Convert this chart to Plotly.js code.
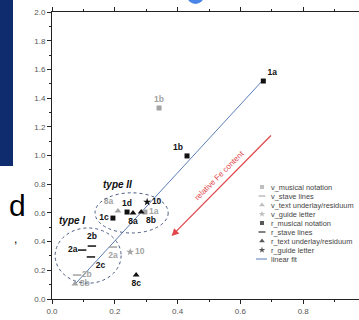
<!DOCTYPE html>
<html><head><meta charset="utf-8">
<script src="https://cdn.plot.ly/plotly-3.0.1.min.js"></script>
<style>
html,body{margin:0;padding:0;background:#fff;overflow:hidden;}
#wrap{position:relative;width:359px;height:320px;overflow:hidden;}
#chart{position:absolute;left:0;top:0;}
.deco{position:absolute;z-index:5;}
</style></head><body>
<div id="wrap">
<div id="chart"></div>
<div class="deco" style="left:0;top:0;width:13px;height:166px;background:#0f2d6e;"></div>
<div class="deco" style="left:187px;top:-6px;width:17px;height:10px;background:#4a86e8;border-radius:0 0 9px 9px;"></div>
<div class="deco" style="left:9px;top:191px;font-family:'Liberation Sans',Arial,sans-serif;font-size:30px;line-height:30px;color:#000;">d</div>
<div class="deco" style="left:14px;top:233px;font-family:'Liberation Sans',Arial,sans-serif;font-size:12px;line-height:12px;color:#000;">,</div>
</div>
<script>
// ---- data ----
const vMusX = [0.296, 0.341], vMusY = [0.606, 1.331], vMusL = ['1a', '1b'];
const vStaveX = [0.194, 0.080], vStaveY = [0.362, 0.167], vStaveL = ['2a', '2b'];
const vTextX = [0.210, 0.073], vTextY = [0.613, 0.105], vTextL = ['8a', '8b'];
const vGuideX = [0.249], vGuideY = [0.328], vGuideL = ['10'];
const rMusX = [0.673, 0.430, 0.194, 0.239], rMusY = [1.519, 0.997, 0.564, 0.606], rMusL = ['1a', '1b', '1c', '1d'];
const rStaveX = [0.096, 0.127, 0.124], rStaveY = [0.341, 0.369, 0.293], rStaveL = ['2a', '2b', '2c'];
const rTextX = [0.258, 0.284, 0.268], rTextY = [0.599, 0.606, 0.167], rTextL = ['8a', '8b', '8c'];
const rGuideX = [0.303], rGuideY = [0.676], rGuideL = ['10'];
const fitX = [0.0765, 0.672], fitY = [0.111, 1.526];
const seriesNames = ['v_musical notation', 'v_stave lines', 'v_text underlay/residuum', 'v_guide letter',
  'r_musical notation', 'r_stave lines', 'r_text underlay/residuum', 'r_guide letter', 'linear fit'];

// ---- styling ----
const FONT = 'Liberation Sans, Arial, sans-serif';
const GREY = '#a3a3a3', BLACK = '#111';
const symbols = ['square', 'line-ew', 'triangle-up', 'star', 'square', 'line-ew', 'triangle-up', 'star'];
const sizes = [5, 6, 6, 6, 5, 6, 6, 6];
const colors = [GREY, GREY, GREY, GREY, BLACK, BLACK, BLACK, BLACK];
const groups = [
  [vMusX, vMusY, vMusL, ['middle right', 'top center']],
  [vStaveX, vStaveY, vStaveL, ['bottom center', 'middle right']],
  [vTextX, vTextY, vTextL, ['top left', 'middle right']],
  [vGuideX, vGuideY, vGuideL, ['middle right']],
  [rMusX, rMusY, rMusL, ['top right', 'top left', 'middle left', 'top center']],
  [rStaveX, rStaveY, rStaveL, ['middle left', 'top center', 'bottom right']],
  [rTextX, rTextY, rTextL, ['bottom center', 'bottom right', 'bottom center']],
  [rGuideX, rGuideY, rGuideL, ['middle right']]
];

const traces = [];
traces.push({x: fitX, y: fitY, mode: 'lines', line: {color: '#5b7db8', width: 1}, showlegend: false, hoverinfo: 'skip'});
groups.forEach((g, i) => {
  traces.push({
    x: g[0], y: g[1], text: g[2], textposition: g[3], mode: 'markers+text', showlegend: false,
    marker: {symbol: symbols[i], size: sizes[i], color: colors[i], line: {color: colors[i], width: symbols[i] === 'line-ew' ? 1.5 : 0}},
    textfont: {family: FONT, size: 8.5, color: colors[i], weight: 'bold'}, cliponaxis: false
  });
});

// compact legend drawn on pixel-space overlay axes
const legX = 262, legTextX = 269, legY0 = 187, legStep = 9;
const annotations = [];
traces.push({
  x: symbols.map(() => legX), y: symbols.map((s, i) => legY0 + i * legStep),
  xaxis: 'x2', yaxis: 'y2', mode: 'markers', showlegend: false, hoverinfo: 'skip',
  marker: {symbol: symbols, size: sizes.map(s => s - 1), color: colors,
    line: {color: colors, width: symbols.map(s => s === 'line-ew' ? 1.5 : 0)}}
});
traces.push({x: [legX - 6, legX + 5], y: [legY0 + 8 * legStep, legY0 + 8 * legStep], xaxis: 'x2', yaxis: 'y2',
  mode: 'lines', line: {color: '#5b7db8', width: 1}, showlegend: false, hoverinfo: 'skip'});
seriesNames.forEach((n, i) => {
  annotations.push({xref: 'x2', yref: 'y2', x: legTextX, y: legY0 + i * legStep, text: n, showarrow: false,
    xanchor: 'left', yanchor: 'middle', font: {family: FONT, size: 7.4, color: '#444'}});
});

annotations.push({xref: 'x', yref: 'y', x: 0.207, y: 0.80, text: '<b><i>type II</i></b>', showarrow: false,
  font: {family: FONT, size: 10, color: '#111'}});
annotations.push({xref: 'x', yref: 'y', x: 0.064, y: 0.544, text: '<b><i>type I</i></b>', showarrow: false,
  font: {family: FONT, size: 10, color: '#111'}});
annotations.push({xref: 'x', yref: 'y', x: 0.381, y: 0.439, ax: 0.702, ay: 1.15, axref: 'x', ayref: 'y',
  text: '', showarrow: true, arrowhead: 2, arrowsize: 1.2, arrowwidth: 1.2, arrowcolor: '#e0454a'});
annotations.push({xref: 'x', yref: 'y', x: 0.533, y: 0.862, text: 'relative Fe content', showarrow: false,
  textangle: -45, font: {family: FONT, size: 8, color: '#e0454a'}});

const axisCommon = {
  showgrid: false, zeroline: false, showline: true, linecolor: '#222', linewidth: 1, mirror: 'allticks',
  ticks: 'outside', ticklen: 4, tickcolor: '#222', tickwidth: 1,
  tickfont: {family: FONT, size: 8, color: '#555'},
  minor: {dtick: 0.1, ticks: 'outside', ticklen: 2, tickcolor: '#222', showgrid: false}
};

const layout = {
  width: 370, height: 320, margin: {l: 52, r: 4, t: 12, b: 21},
  paper_bgcolor: '#fff', plot_bgcolor: '#fff', showlegend: false,
  xaxis: Object.assign({}, axisCommon, {range: [0, 1.0], dtick: 0.2, tickformat: '.1f'}),
  yaxis: Object.assign({}, axisCommon, {range: [0, 2.0], dtick: 0.2, tickformat: '.1f'}),
  xaxis2: {overlaying: 'x', anchor: 'y2', range: [52, 366], visible: false, fixedrange: true},
  yaxis2: {overlaying: 'y', anchor: 'x2', range: [299, 12], visible: false, fixedrange: true},
  shapes: [
    {type: 'circle', xref: 'x', yref: 'y', x0: 0.01, x1: 0.22, y0: 0.11, y1: 0.495,
      line: {color: '#4a5a80', width: 1, dash: 'dot'}},
    {type: 'circle', xref: 'x', yref: 'y', x0: 0.137, x1: 0.37, y0: 0.46, y1: 0.74,
      line: {color: '#4a5a80', width: 1, dash: 'dot'}}
  ],
  annotations: annotations
};

Plotly.newPlot('chart', traces, layout, {staticPlot: true, displayModeBar: false});
</script>
</body></html>
